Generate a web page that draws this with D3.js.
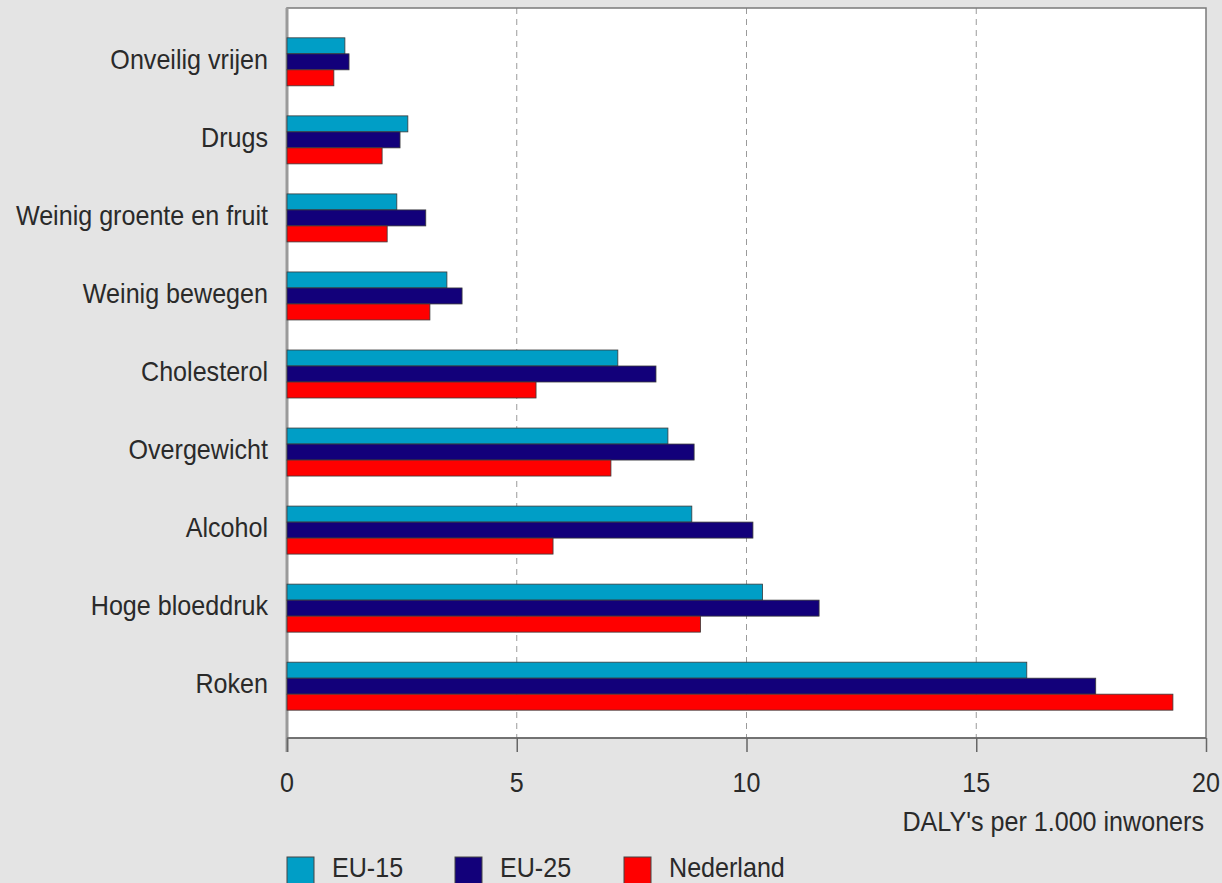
<!DOCTYPE html>
<html><head><meta charset="utf-8">
<script src="https://cdn.jsdelivr.net/npm/d3@7/dist/d3.min.js"></script>
<style>
html,body{margin:0;padding:0;background:#e4e4e4;}
svg{display:block;font-family:"Liberation Sans",Arial,sans-serif;}
</style></head>
<body><svg id="c" width="1222" height="883"></svg>
<script>
const categories = ["Onveilig vrijen","Drugs","Weinig groente en fruit","Weinig bewegen","Cholesterol","Overgewicht","Alcohol","Hoge bloeddruk","Roken"];
const seriesNames = ["EU-15","EU-25","Nederland"];
const eu15 = [1.26,2.63,2.39,3.48,7.2,8.29,8.81,10.35,16.1];
const eu25 = [1.35,2.46,3.02,3.81,8.03,8.86,10.14,11.58,17.6];
const nederland = [1.02,2.07,2.18,3.11,5.42,7.05,5.79,9.0,19.28];
const xTicks = [0,5,10,15,20];
const colors = ["#009ec6","#12007a","#ff0000"];
const axisTitle = "DALY's per 1.000 inwoners";

const series = [eu15, eu25, nederland];
const svg = d3.select("#c");
const L = 287, R = 1206, T = 8, B = 738;
const FS = 27, SX = 0.93, TXT = "#2a2a2a";
const x = d3.scaleLinear().domain([0,20]).range([L,R]);
const y = d3.scaleBand().domain(categories).range([23,725]).paddingInner(0.385).paddingOuter(0.19);
const ys = d3.scaleBand().domain(seriesNames).range([0,y.bandwidth()]);

function label(parent, tx, ty, str, anchor){
  const gg = parent.append("g").attr("transform",`translate(${tx},${ty}) scale(${SX},1)`);
  gg.append("text").attr("x",0).attr("y",0).attr("text-anchor",anchor||"start")
    .attr("font-size",FS).attr("fill",TXT).text(str);
  return gg;
}

// plot background
svg.append("rect").attr("x",L).attr("y",T).attr("width",R-L).attr("height",B-T).attr("fill","#fff");

// gridlines
svg.append("g").selectAll("line").data(xTicks.filter(d=>d>0&&d<20)).join("line")
  .attr("x1",d=>x(d)).attr("x2",d=>x(d)).attr("y1",T).attr("y2",B)
  .attr("stroke","#9a9a9a").attr("stroke-width",1).attr("stroke-dasharray","6,5");

// frame
svg.append("rect").attr("x",L).attr("y",T).attr("width",R-L).attr("height",B-T)
  .attr("fill","none").attr("stroke","#7a7a7a").attr("stroke-width",1.5);
svg.append("line").attr("x1",L).attr("x2",L).attr("y1",T).attr("y2",B+14)
  .attr("stroke","#9a9a9a").attr("stroke-width",3);

// bars
const g = svg.append("g");
series.forEach((vals,si)=>{
  g.append("g").selectAll("rect").data(categories).join("rect")
    .attr("x",x(0)).attr("y",(d)=>y(d)+ys(seriesNames[si]))
    .attr("width",(d,i)=>x(vals[i])-x(0)).attr("height",ys.bandwidth())
    .attr("fill",colors[si]).attr("stroke","#3a3a3a").attr("stroke-width",0.8);
});

// x axis
const xa = svg.append("g").attr("transform",`translate(0,${B})`)
  .call(d3.axisBottom(x).tickValues(xTicks).tickSize(14).tickFormat(""));
xa.select(".domain").remove();
xa.selectAll(".tick line").attr("stroke","#666").attr("stroke-width",1.5);
xTicks.forEach(t=>label(svg, x(t), 792, String(t), "middle"));
svg.append("line").attr("x1",L).attr("x2",R).attr("y1",B).attr("y2",B).attr("stroke","#666").attr("stroke-width",1.5);

// y labels
categories.forEach(c=>label(svg, L-19, y(c)+y.bandwidth()/2+7, c, "end"));

// axis title
label(svg, 1204, 831, axisTitle, "end");

// legend
const legX = [287,455,624];
seriesNames.forEach((s,i)=>{
  svg.append("rect").attr("x",legX[i]).attr("y",857).attr("width",27).attr("height",27)
    .attr("fill",colors[i]).attr("stroke","#444").attr("stroke-width",1);
  label(svg, legX[i]+45, 877, s, "start");
});
</script></body></html>
